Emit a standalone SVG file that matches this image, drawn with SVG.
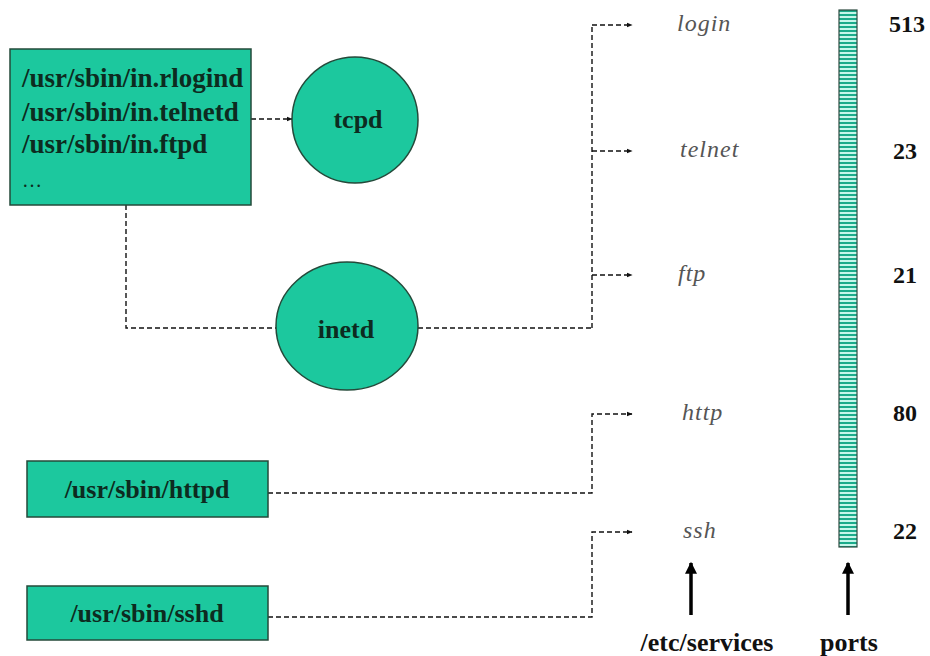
<svg xmlns="http://www.w3.org/2000/svg" width="930" height="656" viewBox="0 0 930 656">
  <style>
    .node { fill: #1cc89e; stroke: #244a3a; stroke-width: 1.5; }
    .lbl { font-family: 'Liberation Serif', 'Times New Roman', 'DejaVu Serif', serif; font-weight: 700; font-size: 26px; fill: #0d2b20; }
    .big { font-size: 27px; }
    .svc { font-family: 'Liberation Serif', 'DejaVu Serif', serif; font-style: italic; font-size: 24px; fill: #555; letter-spacing: 1px; }
    .num { font-family: 'Liberation Serif', 'Times New Roman', serif; font-weight: 700; font-size: 24px; fill: #111; }
    .dash { fill: none; stroke: #111; stroke-width: 1.4; stroke-dasharray: 5 3; }
    .up { stroke: #000; stroke-width: 3.5; fill: none; }
  </style>
  <defs>
    <marker id="dot-arrow" viewBox="0 0 10 10" refX="9" refY="5" markerWidth="6" markerHeight="6" markerUnits="userSpaceOnUse" orient="auto">
      <path d="M0,1 L10,5 L0,9 z" fill="#111"/>
    </marker>
    <marker id="up-arrow" viewBox="0 0 10 10" refX="9" refY="5" markerWidth="13" markerHeight="12" markerUnits="userSpaceOnUse" orient="auto">
      <path d="M0,0 L10,5 L0,10 z" fill="#000"/>
    </marker>
    <pattern id="stripes" x="0" y="10" width="18" height="4" patternUnits="userSpaceOnUse">
      <rect width="18" height="4" fill="#c4f7ea"/>
      <rect width="18" height="2" fill="#1aab8a"/>
    </pattern>
  </defs>

  <rect width="930" height="656" fill="#fff"/>

  <!-- connectors -->
  <g id="connectors">
    <line class="dash" x1="251" y1="119" x2="292" y2="119" marker-end="url(#dot-arrow)"/>
    <polyline class="dash" points="126,205 126,328 276,328"/>
    <line class="dash" x1="418" y1="328" x2="592" y2="328"/>
    <line class="dash" x1="592" y1="328" x2="592" y2="25"/>
    <line class="dash" x1="592" y1="25" x2="632" y2="25" marker-end="url(#dot-arrow)"/>
    <line class="dash" x1="592" y1="151" x2="632" y2="151" marker-end="url(#dot-arrow)"/>
    <line class="dash" x1="592" y1="275" x2="632" y2="275" marker-end="url(#dot-arrow)"/>
    <polyline class="dash" points="268,493 592,493 592,414 632,414" marker-end="url(#dot-arrow)"/>
    <polyline class="dash" points="268,617 592,617 592,532 632,532" marker-end="url(#dot-arrow)"/>
    <line class="up" x1="691" y1="615" x2="691" y2="563" marker-end="url(#up-arrow)"/>
    <line class="up" x1="848" y1="615" x2="848" y2="563" marker-end="url(#up-arrow)"/>
  </g>

  <!-- daemon binaries started via inetd -->
  <g id="inetd-binaries">
    <rect class="node" x="10" y="49" width="241" height="156"/>
    <text class="lbl big" x="22" y="87">/usr/sbin/in.rlogind</text>
    <text class="lbl big" x="22" y="121">/usr/sbin/in.telnetd</text>
    <text class="lbl big" x="22" y="153">/usr/sbin/in.ftpd</text>
    <text class="lbl" x="22" y="187" style="font-weight:normal;font-size:20px">…</text>
  </g>

  <g id="tcpd">
    <circle class="node" cx="355" cy="120" r="63"/>
    <text class="lbl" x="358" y="128" text-anchor="middle">tcpd</text>
  </g>

  <g id="inetd">
    <ellipse class="node" cx="347" cy="326" rx="71" ry="64"/>
    <text class="lbl" x="346" y="338" text-anchor="middle">inetd</text>
  </g>

  <g id="httpd">
    <rect class="node" x="27" y="461" width="241" height="56"/>
    <text class="lbl" x="147" y="498" text-anchor="middle">/usr/sbin/httpd</text>
  </g>

  <g id="sshd">
    <rect class="node" x="27" y="586" width="241" height="54"/>
    <text class="lbl" x="147" y="622" text-anchor="middle">/usr/sbin/sshd</text>
  </g>

  <!-- /etc/services entries -->
  <g id="services">
    <text class="svc" x="677" y="31">login</text>
    <text class="svc" x="680" y="157">telnet</text>
    <text class="svc" x="678" y="281">ftp</text>
    <text class="svc" x="682" y="420">http</text>
    <text class="svc" x="683" y="538">ssh</text>
  </g>

  <!-- port column -->
  <g id="ports">
    <rect x="839" y="10" width="18" height="537" fill="url(#stripes)" stroke="#2e4a40" stroke-width="1.2"/>
    <text class="num" x="889" y="32">513</text>
    <text class="num" x="893" y="159">23</text>
    <text class="num" x="893" y="283">21</text>
    <text class="num" x="893" y="421">80</text>
    <text class="num" x="893" y="539">22</text>
  </g>

  <g id="captions">
    <text class="lbl" x="707" y="651" text-anchor="middle" style="fill:#111">/etc/services</text>
    <text class="lbl" x="849" y="651" text-anchor="middle" style="fill:#111">ports</text>
  </g>
</svg>
